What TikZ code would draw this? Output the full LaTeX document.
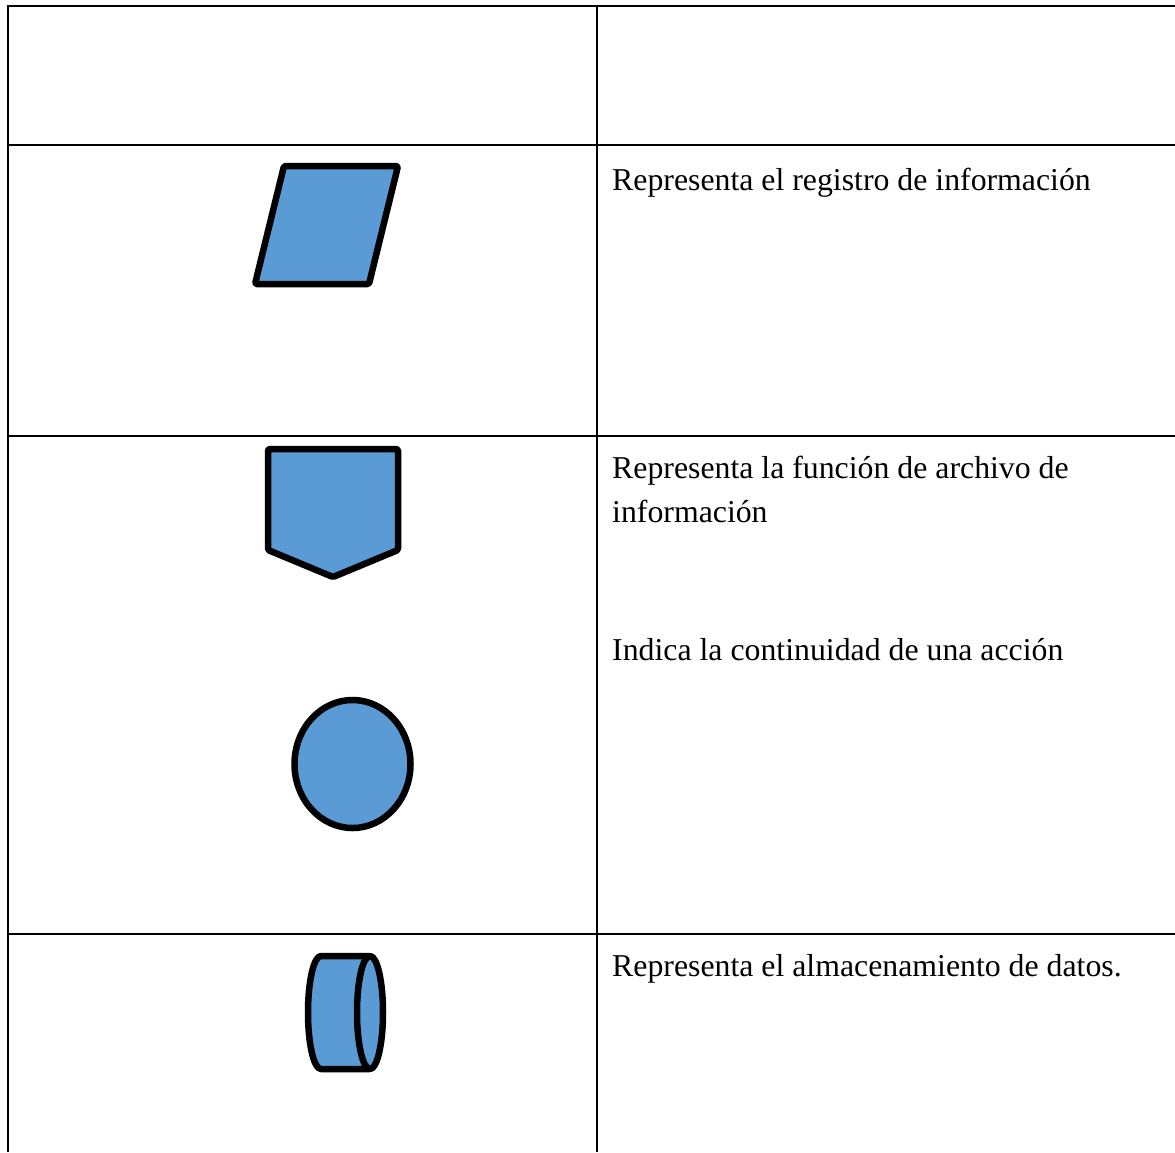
\documentclass[tikz,border=0pt]{standalone}
\usepackage{fontspec}
\setmainfont{Liberation Serif}
\definecolor{simbolo}{HTML}{5B9BD5}
\begin{document}
\begin{tikzpicture}[x=1pt, y=-1pt,
    regla/.style = {line width=2pt},
    figura/.style = {draw=black, fill=simbolo, line width=6.5pt, line join=round, rounded corners=1.5pt},
    texto/.style = {anchor=base west, inner sep=0pt, font=\fontsize{31.8}{43}\selectfont, align=left}]
    \useasboundingbox (0,0) rectangle (1175,1152);
    % tabla
    \draw[regla] (8,6) -- (1175,6);
    \foreach \fila in {145,436,934}
        \draw[regla] (8,\fila) -- (1175,\fila);
    \draw[regla] (8,5) -- (8,1152);
    \draw[regla] (597,5) -- (597,1152);
    % simbolos
    \draw[figura] (284,166) -- (398,166) -- (369,284) -- (255,284) -- cycle;
    \draw[figura] (268,449) -- (398,449) -- (398,550) -- (333,577) -- (268,550) -- cycle;
    \draw[figura, rounded corners=0pt] (352.5,764) ellipse [x radius=58, y radius=64];
    \draw[figura, rounded corners=0pt] (370,956) -- (321,956)
        .. controls (313.8,956) and (308,981.3) .. (308,1012.5)
        .. controls (308,1043.7) and (313.8,1069) .. (321,1069) -- (370,1069);
    \draw[figura, rounded corners=0pt] (370,1012.5) ellipse [x radius=13, y radius=56.5];
    % textos
    \node[texto] (registro) at (612,190) {Representa el registro de información};
    \node[texto] (archivo) at (612,478) {Representa la función de archivo de};
    \node[texto] (archivo2) at (612,522) {información};
    \node[texto] (conector) at (612,660) {Indica la continuidad de una acción};
    \node[texto] (datos) at (612,976) {Representa el almacenamiento de datos.};
\end{tikzpicture}
\end{document}
